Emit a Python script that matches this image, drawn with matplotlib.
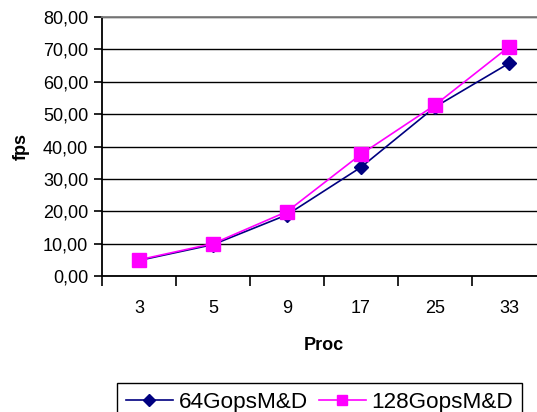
import matplotlib.pyplot as plt
from matplotlib.ticker import FuncFormatter, FixedLocator

# data
procs = ['3', '5', '9', '17', '25', '33']
fps_64 = [4.8, 9.7, 18.9, 33.6, 52.2, 65.7]
fps_128 = [5.0, 10.0, 19.9, 37.6, 52.8, 70.8]

plt.rcParams['font.family'] = ['Liberation Sans', 'DejaVu Sans']
FS = 13

fig = plt.figure(figsize=(5.37, 4.12), dpi=100)
# plot area runs a little past the right edge of the picture, like the original crop
ax = fig.add_axes([102 / 537, 1 - 276 / 412, 444 / 537, 259 / 412])

x = list(range(len(procs)))
ax.plot(x, fps_64, color='#000080', marker='D', markersize=7.5, lw=1.2,
        label='64GopsM&D', zorder=3)
ax.plot(x, fps_128, color='#FF00FF', marker='s', markersize=9.5, lw=1.2,
        markeredgecolor='#FF00FF', label='128GopsM&D', zorder=4)

ax.set_ylim(0, 80)
ax.set_xlim(-0.5, len(procs) - 0.5)
ax.set_yticks(range(0, 81, 10))
ax.yaxis.set_major_formatter(FuncFormatter(lambda v, p: '{:.2f}'.format(v).replace('.', ',')))
ax.yaxis.grid(True, color='black', lw=1.0)
ax.set_axisbelow(True)

# category boundaries get the ticks, the labels sit between them
ax.xaxis.set_major_locator(FixedLocator([i - 0.5 for i in range(len(procs) + 1)]))
ax.xaxis.set_minor_locator(FixedLocator(x))
ax.set_xticklabels([])
ax.set_xticks(x, minor=True)
ax.set_xticklabels(procs, minor=True)
ax.tick_params(axis='x', which='major', direction='out', length=7, width=1.2)
ax.tick_params(axis='x', which='minor', length=0, pad=17, labelsize=FS)
ax.tick_params(axis='y', direction='out', length=6, width=1.2, pad=4, labelsize=FS)

for side in ['left', 'bottom']:
    ax.spines[side].set_color('black')
    ax.spines[side].set_linewidth(1.3)
ax.spines['top'].set_color('#808080')
ax.spines['top'].set_linewidth(1.3)
ax.spines['right'].set_color('#808080')

ax.set_xlabel('Proc', fontsize=FS, fontweight='bold', labelpad=15)
ax.set_ylabel('fps', fontsize=FS, fontweight='bold', labelpad=9)

# legend sits at the bottom and is cut by the picture edge, as in the original
leg = fig.legend(loc='upper left', bbox_to_anchor=(117 / 537, 1 - 383 / 412),
                 ncol=2, fontsize=16.2, frameon=True, fancybox=False,
                 edgecolor='black', framealpha=1, borderaxespad=0,
                 handlelength=2.1, handletextpad=0.25, columnspacing=0.5,
                 borderpad=0.38, numpoints=1, markerscale=0.8)
leg.get_frame().set_linewidth(1.0)

fig.savefig('out.png', dpi=100)
